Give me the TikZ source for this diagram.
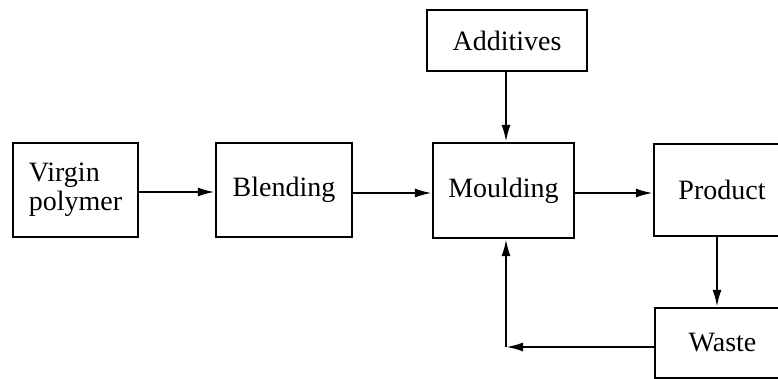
\documentclass[tikz,border=0pt]{standalone}
\usepackage{fontspec}
\setmainfont{Liberation Serif}
\usetikzlibrary{arrows.meta}
\begin{document}
\begin{tikzpicture}[x=1pt,y=-1pt,
  block/.style={draw,line width=2.2pt,inner sep=0pt,
    font=\fontsize{28}{29}\selectfont},
  flow/.style={line width=2.2pt,-{Latex[length=17pt,width=9pt]}}]
  \useasboundingbox (0,0) rectangle (778,379);
  \clip (0,0) rectangle (778,379);
  % process blocks (centre, width, height in px-sized points)
  \node[block,minimum width=125pt,minimum height=94pt,align=left] (virgin) at (75.5,190) {Virgin\\polymer};
  \node[block,minimum width=136pt,minimum height=94pt] (blend) at (284,190) {Blending};
  \node[block,minimum width=160pt,minimum height=61pt] (add) at (507,40.5) {Additives};
  \node[block,minimum width=141pt,minimum height=95pt] (mould) at (503.5,190.5) {Moulding};
  \node[block,minimum width=136pt,minimum height=92pt] (prod) at (722,190) {Product};
  \node[block,minimum width=135pt,minimum height=70pt] (waste) at (722.5,343) {Waste};
  % corner of the recycle loop
  \coordinate (loop) at (506,347);
  % main line
  \draw[flow] (virgin.east |- 0,192) -- (blend.west |- 0,192);
  \draw[flow] (blend.east |- 0,193) -- (mould.west |- 0,193);
  \draw[flow] (mould.east |- 0,193) -- (prod.west |- 0,193);
  \draw[flow] (add.south -| 506,0) -- (mould.north -| 506,0);
  \draw[flow] (prod.south -| 717,0) -- (waste.north -| 717,0);
  % recycle loop back to moulding
  \draw[flow] (waste.west |- loop) -- (loop);
  \draw[flow] (loop) -- (mould.south -| loop);
\end{tikzpicture}
\end{document}
